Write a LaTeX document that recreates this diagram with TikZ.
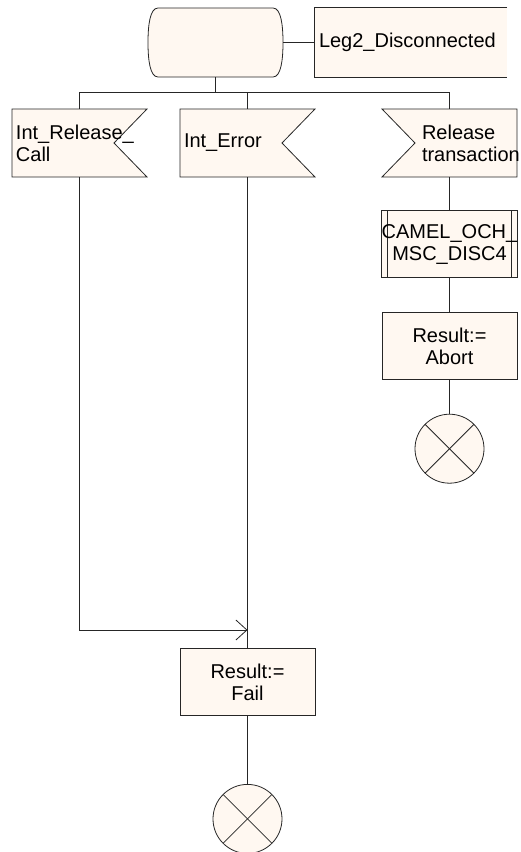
\documentclass[tikz,border=0pt]{standalone}
\usepackage{fontspec}
\setmainfont{Liberation Sans}
\usetikzlibrary{positioning,arrows.meta}

\definecolor{sdlfill}{RGB}{255,248,241}
\newcommand{\sdlfont}{\fontsize{20}{22}\selectfont}

\tikzset{
  sdlline/.style={draw=black!85,line width=0.8pt},
  sigtext/.style={text width=127pt,inner xsep=4pt,inner ysep=0pt,
    minimum height=68pt,align=left},
  taskbox/.style={rectangle,sdlline,fill=sdlfill,minimum width=135pt,
    minimum height=67pt,inner sep=0pt,align=center},
  procbox/.style={taskbox,path picture={
    \draw[sdlline] ([xshift=6pt]path picture bounding box.north west)
      -- ([xshift=6pt]path picture bounding box.south west);
    \draw[sdlline] ([xshift=-6pt]path picture bounding box.north east)
      -- ([xshift=-6pt]path picture bounding box.south east);}},
  stopsign/.style={circle,sdlline,fill=sdlfill,minimum size=69pt,inner sep=0pt,
    path picture={
    \draw[sdlline] (path picture bounding box.north west)
      -- (path picture bounding box.south east);
    \draw[sdlline] (path picture bounding box.north east)
      -- (path picture bounding box.south west);}}
}

\begin{document}
\begin{tikzpicture}[x=1pt,y=-1pt,>={Straight Barb[length=11pt,width=20pt]},
  every node/.style={font=\sdlfont}]
    \useasboundingbox (0,0) rectangle (521,852);
    % shapes of state and signals
    \filldraw[sdlline,fill=sdlfill] (158,8) -- (273,8)
      .. controls (281,8) and (283,25) .. (283,42.5)
      .. controls (283,60) and (281,77) .. (273,77) -- (158,77)
      .. controls (150,77) and (148,60) .. (148,42.5)
      .. controls (148,25) and (150,8) .. (158,8) -- cycle;
    \filldraw[sdlline,fill=sdlfill] (12,109) -- (147,109) -- (114,143)
      -- (147,177) -- (12,177) -- cycle;
    \filldraw[sdlline,fill=sdlfill] (180,109) -- (315,109) -- (282,143)
      -- (315,177) -- (180,177) -- cycle;
    \filldraw[sdlline,fill=sdlfill] (382,109) -- (517,109) -- (517,177)
      -- (382,177) -- (415,143) -- cycle;
    % create the nodes
    \node (state) [minimum width=135pt,minimum height=69pt] at (215.5,42.5) {};
    \node (leg2) [fill=sdlfill,text width=184pt,inner xsep=4pt,
      minimum height=69pt,align=left] at (411,42.5) {Leg2\_Disconnected};
    \node (relcall) [sigtext] at (79.5,143) {Int\_Release\_\\Call};
    \node (interr) [sigtext] at (247.5,143) {Int\_Error};
    \node (reltrans) [sigtext] at (449.5,143)
      {\hspace*{36pt}\mbox{Release}\\\hspace*{36pt}\mbox{transaction}};
    \node (proc) [procbox,below=33pt of reltrans] {CAMEL\_OCH\_\\MSC\_DISC4};
    \node (abort) [taskbox,below=34pt of proc] {Result:=\\Abort};
    \node (stop1) [stopsign,below=34pt of abort] {};
    \node (fail) [taskbox,below=471pt of interr] {Result:=\\Fail};
    \node (stop2) [stopsign,below=68pt of fail] {};
    \coordinate (fork) at (215.5,92);
    \coordinate (merge) at (247.5,630);
    % connect the nodes
    \draw[sdlline] (leg2.north east) -- (leg2.north west) -- (leg2.south west)
      -- (leg2.south east);
    \draw[sdlline] (state.east) -- (leg2.west);
    \draw[sdlline] (state.south) -- (fork);
    \draw[sdlline] (relcall.north) -- (relcall.north |- fork)
      -- (reltrans.north |- fork) -- (reltrans.north);
    \draw[sdlline] (interr.north) -- (interr.north |- fork);
    \draw[sdlline,->] (relcall.south) |- (merge);
    \draw[sdlline] (interr.south) -- (fail.north);
    \draw[sdlline] (reltrans.south) -- (proc.north);
    \draw[sdlline] (proc.south) -- (abort.north);
    \draw[sdlline] (abort.south) -- (stop1.north);
    \draw[sdlline] (fail.south) -- (stop2.north);
\end{tikzpicture}
\end{document}
